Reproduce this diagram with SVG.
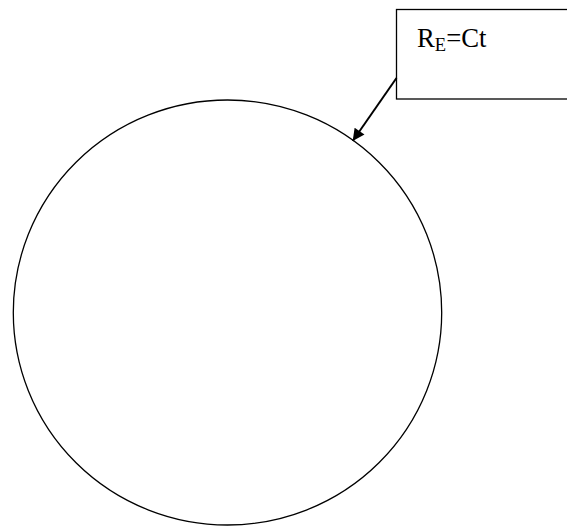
<svg xmlns="http://www.w3.org/2000/svg" width="567" height="527" viewBox="0 0 567 527">
<style>
.ln{fill:none;stroke:#000;stroke-width:1.3}
.ar{fill:none;stroke:#000;stroke-width:2}
.t{font-family:"Liberation Serif","Times New Roman",serif;font-size:26.7px;fill:#000}
</style>
<defs>
<marker id="ah" viewBox="0 0 10 10" refX="10" refY="5" markerWidth="16" markerHeight="12" markerUnits="userSpaceOnUse" orient="auto">
<path d="M0,0 L10,5 L0,10 z" fill="#000"/>
</marker>
</defs>
<rect width="567" height="527" fill="#fff"/>
<g id="circle">
<ellipse class="ln" cx="227.5" cy="312.5" rx="214.2" ry="212.5"/>
</g>
<g id="label">
<rect class="ln" x="396.5" y="9.5" width="190" height="89.5"/>
<text class="t" x="417" y="46.7">R<tspan font-size="18.5" dy="4">E</tspan><tspan dy="-4">=Ct</tspan></text>
</g>
<g id="connectors">
<line class="ar" x1="396.5" y1="78" x2="352.7" y2="141" marker-end="url(#ah)"/>
</g>
</svg>
